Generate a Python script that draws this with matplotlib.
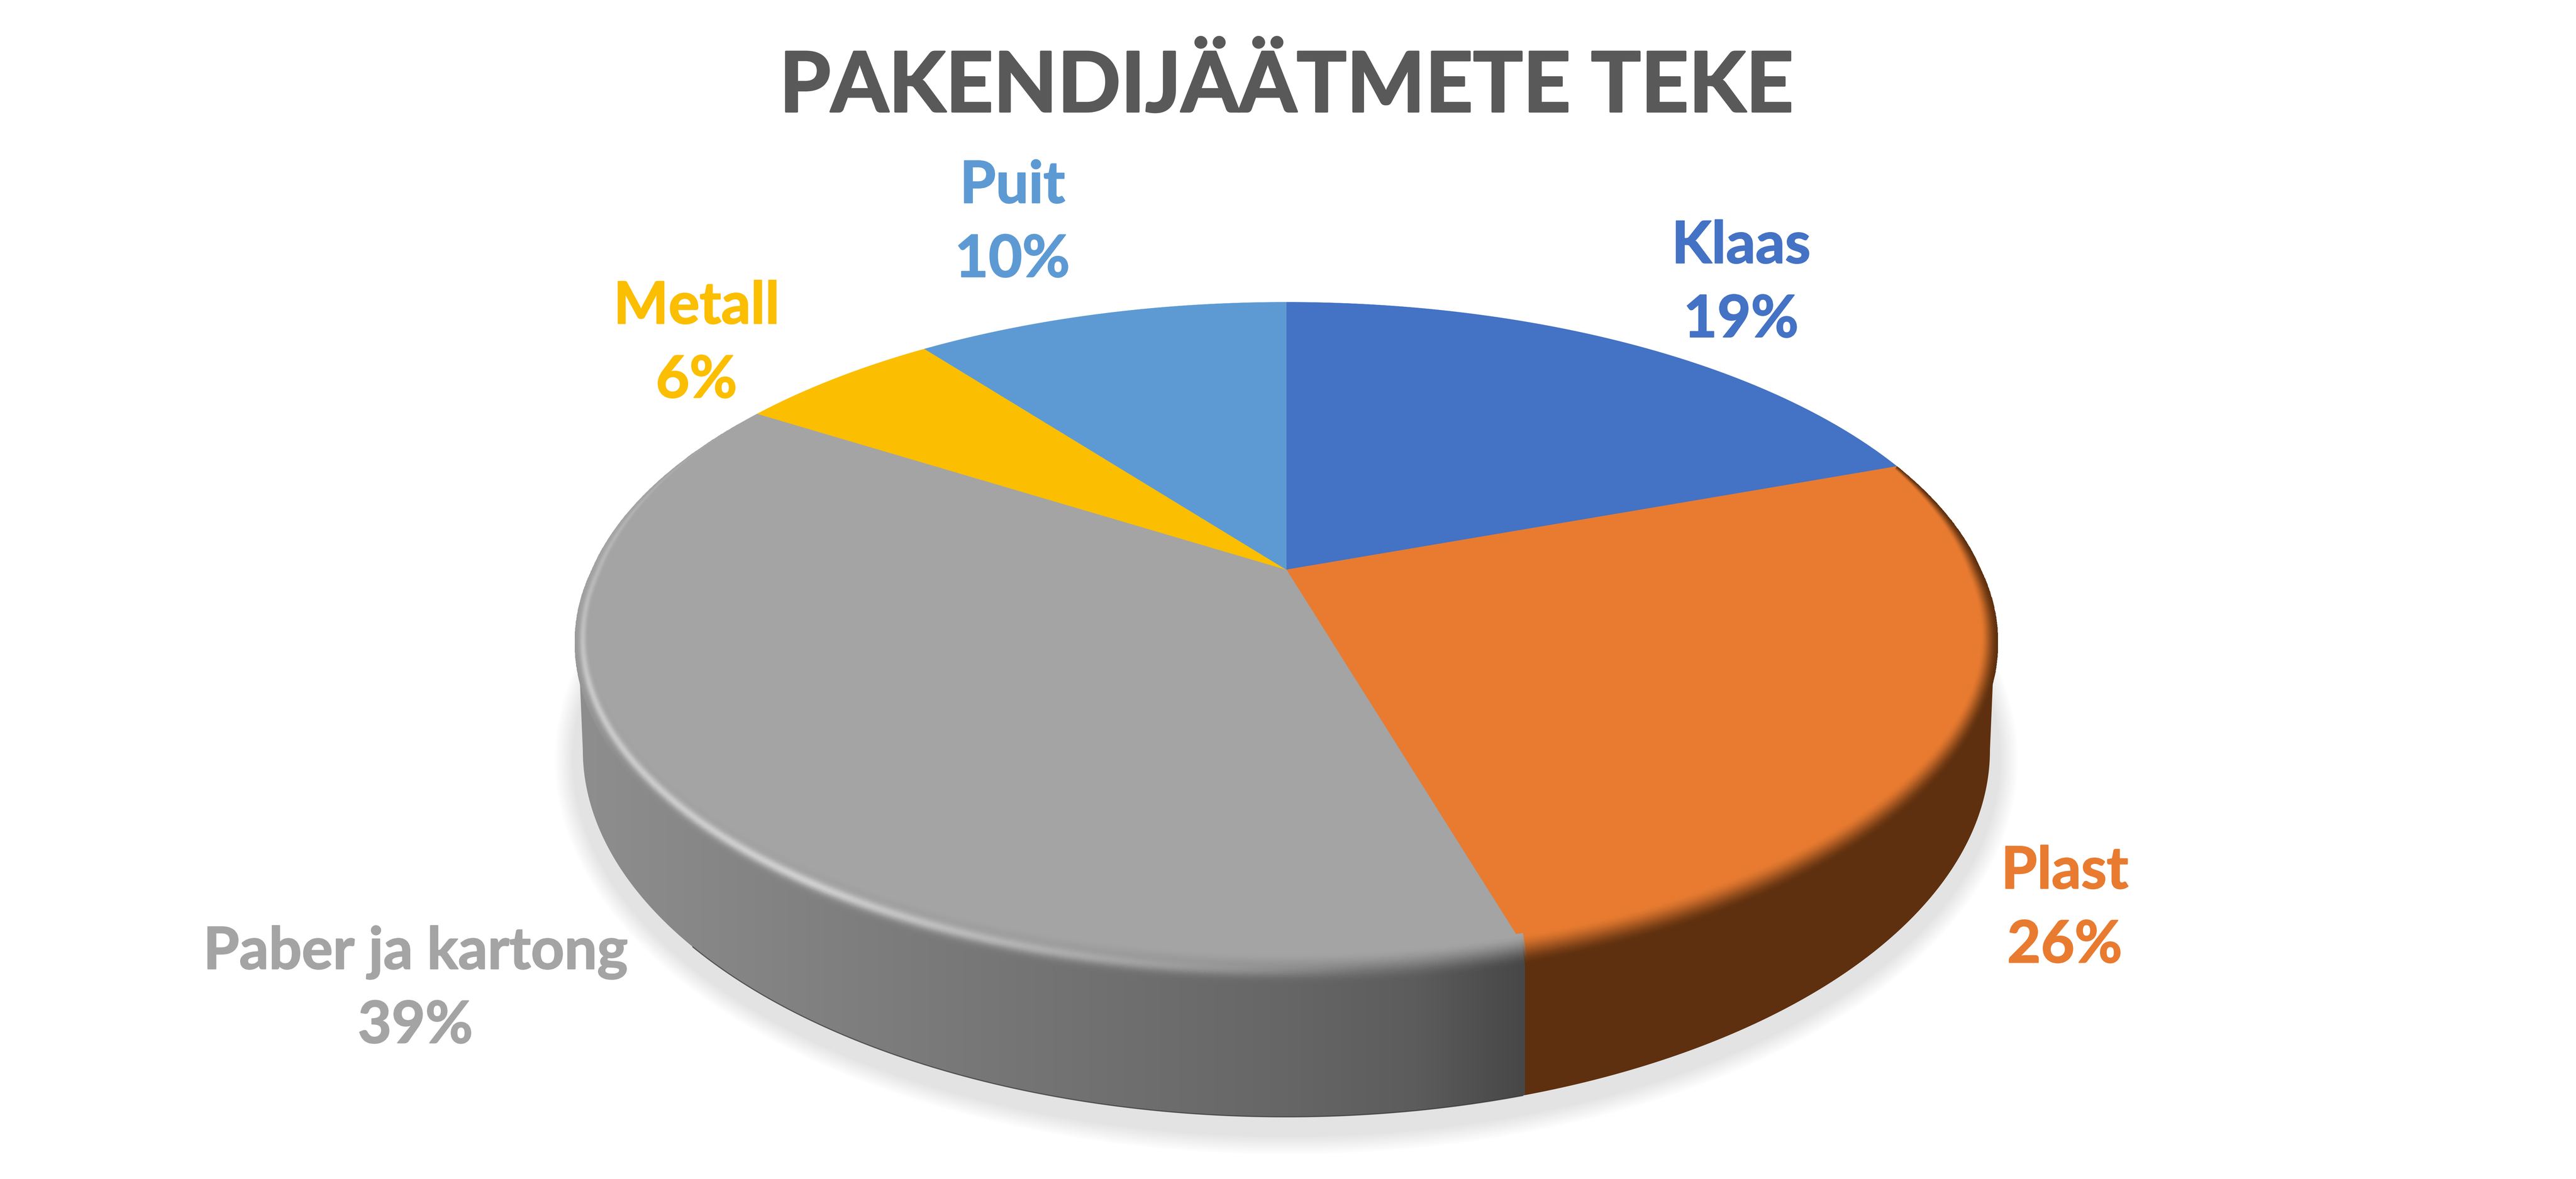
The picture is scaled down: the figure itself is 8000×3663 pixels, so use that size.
import numpy as np
import matplotlib
matplotlib.use('Agg')
import matplotlib.pyplot as plt
import matplotlib.patheffects as pe
from matplotlib.colors import to_rgb
from matplotlib.patches import Polygon

# Chart data
title = 'PAKENDIJÄÄTMETE TEKE'
names = ['Klaas', 'Plast', 'Paber ja kartong', 'Metall', 'Puit']
shares = [19.4, 26.1, 38.55, 5.65, 10.3]
colors = ['#4472C4', '#E87B30', '#A4A4A4', '#FBBE00', '#5D9AD3']

# Label anchors (name baseline) in figure pixels
label_xy = [(5407, 817), (6412, 2760), (1290, 3010), (2163, 1005), (3144, 630)]
line_gap = 230

# Perspective of the disc, in figure pixels
W, H = 8000, 3663
cx, cy = 3995, 1770
a, b, k = 2157, 995, 0.197
bottom_w, bottom_cy, bottom_ry = 2185, 2330, 1140

top_w = a / np.sqrt(1 - k ** 2)
top_ry = b / (1 - k ** 2)
top_cy = cy + b * k / (1 - k ** 2)

brown = to_rgb('#5E300F')
gray_x = [1800, 3100, 4000, 4400, 4730]
gray_c = np.array([to_rgb(c) for c in ['#8E8E8E', '#767676', '#666666', '#5C5C5C', '#474747']])


def project(theta):
    # theta in degrees, clockwise from the back of the disc
    t = np.radians(theta)
    d = 1 + k * np.cos(t)
    return cx + a * np.sin(t) / d, cy - b * np.cos(t) / d


edges = np.concatenate([[0], np.cumsum(shares)]) * 3.6
seam_x = project(edges[2])[0]


def wall_color(x):
    x = np.asarray(x, dtype=float)
    out = np.stack([np.interp(x, gray_x, gray_c[:, i]) for i in range(3)], axis=-1)
    out[x > seam_x] = brown
    return out


fig = plt.figure(figsize=(W / 100, H / 100), dpi=100)
ax = fig.add_axes([0, 0, 1, 1])

# Soft shadow under the disc
phi = np.radians(np.linspace(0, 360, 400))
for d in np.linspace(90, 0, 31):
    fade = np.clip((90 - d) / 60, 0, 1)
    shade = 1 - fade * (1 - 0.89)
    ax.fill(cx + (bottom_w + d) * np.cos(phi), bottom_cy + 30 + (bottom_ry + d) * np.sin(phi),
            color=(shade, shade, shade), lw=0, zorder=1)

# Side wall
arc = np.radians(np.linspace(0, 180, 400))
wall_x = cx + bottom_w * np.cos(arc)
wall_y = bottom_cy + bottom_ry * np.sin(arc)
wall_pts = np.column_stack([
    np.concatenate([[cx + top_w], wall_x, [cx - top_w]]),
    np.concatenate([[top_cy], wall_y, [top_cy]]),
])
clip = Polygon(wall_pts, closed=True, transform=ax.transData, fc='none', ec='none')
ax.add_patch(clip)
grad_x = np.linspace(1700, 6300, 2300)
img = ax.imshow(wall_color(grad_x)[np.newaxis, :, :], extent=(1700, 6300, 3600, 1900),
                aspect='auto', interpolation='nearest', zorder=2)
img.set_clip_path(clip)

# Thin dark line along the lower edge of the gray part
keep = (wall_x > 2150) & (wall_x < seam_x)
ax.plot(wall_x[keep], wall_y[keep], color='#303030', lw=2.5, alpha=0.7, zorder=3)

# Top surface slices
for i in range(len(shares)):
    tx, ty = project(np.linspace(edges[i], edges[i + 1], 300))
    ax.fill(np.r_[cx, tx], np.r_[cy, ty], color=colors[i], lw=0.5, zorder=4)

# Blurred bevel between the top surface and the wall
theta = np.linspace(edges[1], 330, 1200)
u = np.linspace(0, 1, 25)
px, py = project(theta)
nx = (px - cx) / top_w ** 2
ny = (py - top_cy) / top_ry ** 2
norm = np.hypot(nx, ny)
nx, ny = nx / norm, ny / norm
cos_t = np.cos(np.radians(theta))
outer = 50 * np.clip(-cos_t, 0, 1)
inner = (45 + 5 * np.clip(-cos_t, 0, 1)) * np.clip((0.5 - cos_t) / 0.5, 0, 1)
offs = np.outer(1 - u, outer) - np.outer(u, inner)
mesh_x = px + offs * nx
mesh_y = py + offs * ny

mid_theta = (theta[:-1] + theta[1:]) / 2
mid_u = (u[:-1] + u[1:]) / 2
slice_idx = np.clip(np.searchsorted(edges, mid_theta) - 1, 0, len(shares) - 1)
slice_rgb = np.array([to_rgb(colors[i]) for i in slice_idx])
wall_rgb = wall_color((mesh_x[0, :-1] + mesh_x[0, 1:]) / 2)
# on the left side the rim no longer darkens towards the wall
left_fade = np.interp(mid_theta, [235, 275], [0, 1])[:, None]
wall_rgb = wall_rgb * (1 - left_fade) + slice_rgb * left_fade
blend = mid_u * mid_u * (3 - 2 * mid_u)
cells = wall_rgb[np.newaxis, :, :] * (1 - blend)[:, None, None] + slice_rgb[np.newaxis, :, :] * blend[:, None, None]

# Highlight on the rim of the gray slice
hl_amount = np.interp(mid_theta, [175, 215, 250, 270, 290, 305], [0, 0.95, 0.8, 0.45, 0.15, 0])
hl_amount = hl_amount * (slice_idx == 2)
hl_band = np.exp(-((mid_u - 0.45) / 0.18) ** 2)
hl = np.outer(hl_band, hl_amount)[:, :, None]
cells = cells + hl * (np.array(to_rgb('#D2D2D2')) - cells)
rgba = np.dstack([cells, np.ones(cells.shape[:2])])
ax.pcolormesh(mesh_x, mesh_y, rgba, shading='flat', zorder=5)

# Texts (Lato bold is a bit thin next to the original, so give it a small stroke)
font = dict(family='Lato', fontweight='bold')
ax.text(3995, 347, title, ha='center', va='baseline', fontsize=186, color='#595959', zorder=6,
        path_effects=[pe.withStroke(linewidth=4, foreground='#595959')], **font)
for i, name in enumerate(names):
    x, y = label_xy[i]
    stroke = [pe.withStroke(linewidth=2.5, foreground=colors[i])]
    ax.text(x, y, name, ha='center', va='baseline', fontsize=130, color=colors[i], zorder=6,
            path_effects=stroke, **font)
    ax.text(x, y + line_gap, f'{shares[i]:.0f}%', ha='center', va='baseline', fontsize=130,
            color=colors[i], zorder=6, path_effects=stroke, **font)

ax.set_xlim(0, W)
ax.set_ylim(H, 0)
ax.axis('off')
fig.savefig('out.png', dpi=100, facecolor='white')
